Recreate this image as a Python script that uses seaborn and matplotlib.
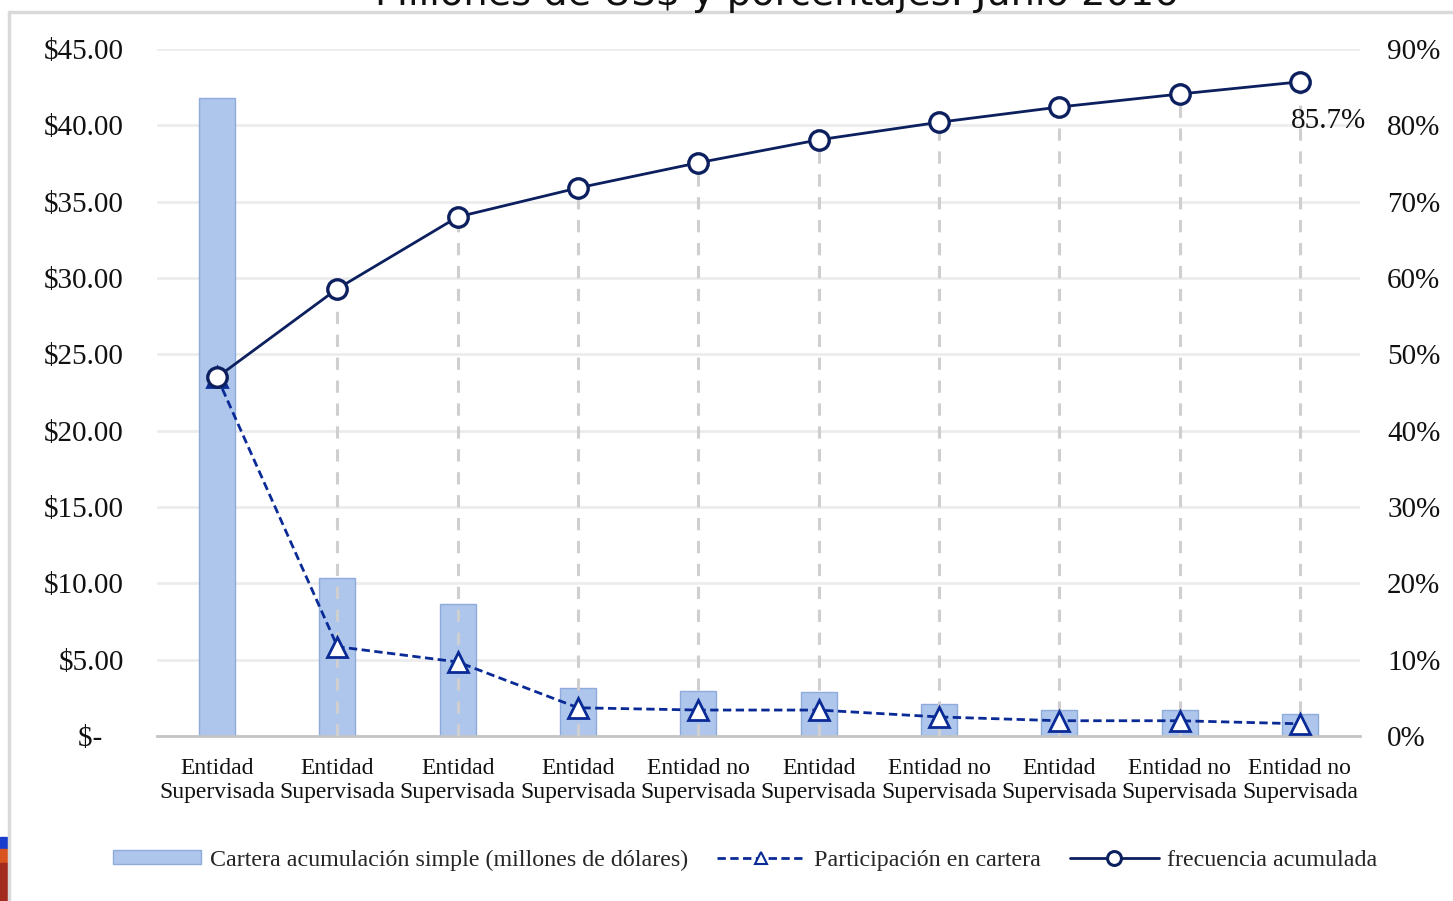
import matplotlib
matplotlib.use("Agg")
import matplotlib.pyplot as plt
import seaborn as sns
import pandas as pd
from matplotlib.patches import Rectangle
from matplotlib.lines import Line2D

# ---------------- data ----------------
categorias = ["Entidad\nSupervisada", "Entidad\nSupervisada", "Entidad\nSupervisada",
              "Entidad\nSupervisada", "Entidad no\nSupervisada", "Entidad\nSupervisada",
              "Entidad no\nSupervisada", "Entidad\nSupervisada", "Entidad no\nSupervisada",
              "Entidad no\nSupervisada"]
cartera = [41.8, 10.35, 8.65, 3.14, 2.95, 2.88, 2.1, 1.7, 1.7, 1.44]          # millones US$
participacion = [47.0, 11.7, 9.7, 3.7, 3.4, 3.4, 2.5, 2.0, 2.0, 1.6]        # %
frecuencia_acum = [47.0, 58.6, 68.0, 71.8, 75.1, 78.1, 80.4, 82.4, 84.1, 85.7]  # %
etiqueta_final = "85.7%"
ticks_izq = [0, 5, 10, 15, 20, 25, 30, 35, 40, 45]
ticks_der = [0, 10, 20, 30, 40, 50, 60, 70, 80, 90]
titulo = "Millones de US$ y porcentajes. Junio 2016"
leyenda = ["Cartera acumulación simple (millones de dólares)",
           "Participación en cartera", "frecuencia acumulada"]

df = pd.DataFrame({"pos": list(range(len(cartera))), "cartera": cartera,
                   "participacion": participacion, "acum": frecuencia_acum})

# ---------------- style ----------------
sns.set_theme(style="white")
plt.rcParams["font.family"] = ["Liberation Serif", "DejaVu Serif"]

W, H = 1453, 901
fig = plt.figure(figsize=(W / 100, H / 100), dpi=100)
ax = fig.add_axes([157 / W, 1 - 736 / H, (1360 - 157) / W, (736 - 49) / H])

bar_color = "#aec6ec"
bar_edge = "#8fabdc"
navy = "#0c1f5e"
blue_dash = "#0a2a96"
grid_c = "#ececec"

sns.barplot(data=df, x="pos", y="cartera", ax=ax, color=bar_color, width=0.3,
            edgecolor=bar_edge, linewidth=1.0, saturation=1, zorder=2)
ax.set_xlim(-0.5, len(cartera) - 0.5)
ax.set_ylim(0, 45)
ax.set_yticks(ticks_izq)
ax.set_yticklabels(["$-   " if t == 0 else f"${t:.2f}" for t in ticks_izq],
                   fontsize=21, color="#111111")
ax.grid(axis="y", color=grid_c, linewidth=2, zorder=0)
ax.set_axisbelow(True)
ax.set_xlabel("")
ax.set_ylabel("")
ax.set_xticks(range(len(categorias)))
ax.set_xticklabels(categorias, fontsize=17, color="#111111", linespacing=1.2)
ax.tick_params(axis="x", length=0, pad=16)
ax.tick_params(axis="y", length=0, pad=24)
# boundary tick marks
ax.set_xticks([i - 0.5 for i in range(len(categorias) + 1)], minor=True)
ax.tick_params(axis="x", which="minor", length=7, width=1.5, color="#c8c8c8", direction="out")
for s in ["left", "right", "top"]:
    ax.spines[s].set_visible(False)
ax.spines["bottom"].set_color("#c4c4c4")
ax.spines["bottom"].set_linewidth(2)

ax2 = ax.twinx()
ax2.set_ylim(0, 90)
ax2.set_xlim(-0.5, len(cartera) - 0.5)
ax2.set_yticks(ticks_der)
ax2.set_yticklabels([f"{t}%" for t in ticks_der], fontsize=21, color="#111111")
ax2.tick_params(axis="y", length=0, pad=19.5)
for s in ["left", "right", "top", "bottom"]:
    ax2.spines[s].set_visible(False)
ax2.grid(False)

# drop lines
ax2.vlines(df["pos"][1:], 0, df["acum"][1:], colors="#cfcfcf", linestyles=(0, (4, 3.5)),
           linewidth=2.2, zorder=1)

sns.lineplot(data=df, x="pos", y="participacion", ax=ax2, color=blue_dash,
             linestyle=(0, (3, 1.6)), linewidth=2.0, marker="^", markersize=15,
             markerfacecolor="white", markeredgecolor=blue_dash, markeredgewidth=2.0,
             zorder=3)
sns.lineplot(data=df, x="pos", y="acum", ax=ax2, color=navy, linewidth=2.0,
             marker="o", markersize=14, markerfacecolor="white",
             markeredgecolor=navy, markeredgewidth=2.4, zorder=4)
ax2.set_xlabel("")
ax2.set_ylabel("")
ax2.text(df["pos"].iloc[-1] + 0.24, df["acum"].iloc[-1] - 5.1, etiqueta_final,
         fontsize=21, ha="center", va="center", color="#111111")

# legend
h_bar = Rectangle((0, 0), 1, 1, facecolor=bar_color, edgecolor=bar_edge, linewidth=1)
h_part = Line2D([], [], color=blue_dash, linestyle=(0, (3, 1.6)), linewidth=2.0, marker="^",
                markersize=9, markerfacecolor="white", markeredgecolor=blue_dash,
                markeredgewidth=1.5)
h_acum = Line2D([], [], color=navy, linewidth=2.0, marker="o", markersize=10,
                markerfacecolor="white", markeredgecolor=navy, markeredgewidth=2.2)
fig.legend([h_bar, h_part, h_acum], leyenda, loc="center",
           bbox_to_anchor=(745 / W, 1 - 860 / H), ncol=3, frameon=False,
           prop={"family": "Liberation Serif", "size": 17.3}, handlelength=3.7,
           handleheight=0.5, handletextpad=0.35, columnspacing=1.2)

# title (cut off at the top like the screenshot)
fig.text(777 / W, 1 - 5 / H, titulo, ha="center", va="baseline", fontsize=27.5,
         family="DejaVu Sans", color="#111111")

# screenshot frame and side blocks
fig.add_artist(Line2D([9 / W, 1], [1 - 12 / H, 1 - 12 / H], color="#d9d9d9", linewidth=2.5,
                      transform=fig.transFigure))
fig.add_artist(Line2D([9 / W, 9 / W], [0, 1 - 12 / H], color="#d9d9d9", linewidth=2.5,
                      transform=fig.transFigure))
for y0, y1, c in [(837, 849, "#1a3ccc"), (849, 863, "#d9531e"), (863, 901, "#a22a1e")]:
    fig.add_artist(Rectangle((0, 1 - y1 / H), 7 / W, (y1 - y0) / H, color=c,
                             transform=fig.transFigure))

fig.savefig("out.png", dpi=100)
